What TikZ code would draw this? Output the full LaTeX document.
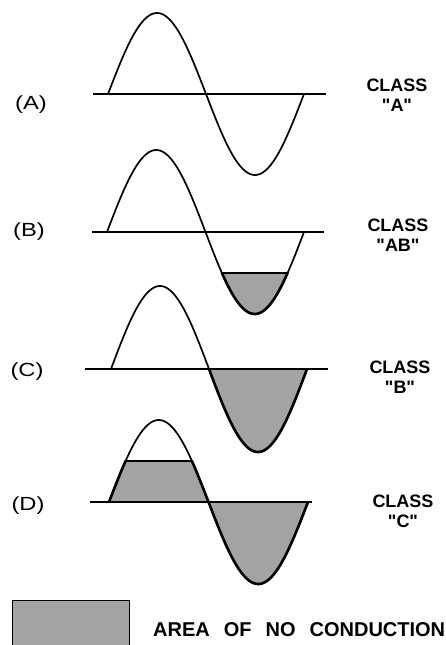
\documentclass[tikz,border=0pt]{standalone}
\usepackage{fontspec}
\setmainfont{Liberation Sans}
\newfontfamily\plainsans{Liberation Sans}
\begin{document}
\begin{tikzpicture}[x=1pt,y=-1pt,
  axisline/.style={line width=2.2pt},
  wave/.style={line width=1.7pt, line join=round},
  edgeline/.style={line width=2.6pt, line join=round, line cap=round},
  clipline/.style={line width=1.6pt},
  nocond/.style={fill=black!36},
  panellabel/.style={font=\plainsans\fontsize{19}{19}\selectfont, inner sep=0pt},
  classlabel/.style={font=\plainsans\bfseries\fontsize{18}{20}\selectfont, align=center, inner sep=0pt},
  legendtext/.style={font=\plainsans\bfseries\fontsize{20}{20}\selectfont, inner sep=0pt, anchor=west}
]
\useasboundingbox (0,0) rectangle (446,645);

% ---------- Panel A ----------
\begin{scope}
\def\xo{108}\def\per{196}\def\yo{94}\def\am{81}
\pgfmathsetmacro\xe{\xo+\per}
\draw[wave] plot[domain=\xo:\xe,samples=120,smooth] (\x,{\yo-\am*sin((\x-\xo)/\per*360)});
\draw[axisline] (93,\yo) -- (326,\yo);
\end{scope}

% ---------- Panel B ----------
\begin{scope}
\def\xo{107}\def\per{197}\def\yo{232}\def\am{82}
\pgfmathsetmacro\xe{\xo+\per}
\pgfmathsetmacro\xa{\xo+\per/360*210}
\pgfmathsetmacro\xb{\xo+\per/360*330}
\fill[nocond] plot[domain=\xa:\xb,samples=60,smooth] (\x,{\yo-\am*sin((\x-\xo)/\per*360)}) -- cycle;
\draw[wave] plot[domain=\xo:\xe,samples=120,smooth] (\x,{\yo-\am*sin((\x-\xo)/\per*360)});
\draw[edgeline] plot[domain=\xa:\xb,samples=60,smooth] (\x,{\yo-\am*sin((\x-\xo)/\per*360)});
\draw[clipline] (\xa,\yo+\am/2) -- (\xb,\yo+\am/2);
\draw[axisline] (92,\yo) -- (324,\yo);
\end{scope}

% ---------- Panel C ----------
\begin{scope}
\def\xo{111}\def\per{196}\def\yo{369}\def\am{83}
\pgfmathsetmacro\xe{\xo+\per}
\pgfmathsetmacro\xm{\xo+\per/2}
\fill[nocond] plot[domain=\xm:\xe,samples=80,smooth] (\x,{\yo-\am*sin((\x-\xo)/\per*360)}) -- cycle;
\draw[wave] plot[domain=\xo:\xe,samples=120,smooth] (\x,{\yo-\am*sin((\x-\xo)/\per*360)});
\draw[edgeline] plot[domain=\xm:\xe,samples=80,smooth] (\x,{\yo-\am*sin((\x-\xo)/\per*360)});
\draw[axisline] (85,\yo) -- (328,\yo);
\end{scope}

% ---------- Panel D ----------
\begin{scope}
\def\xo{109}\def\per{199}\def\yo{502}\def\am{82}
\pgfmathsetmacro\xe{\xo+\per}
\pgfmathsetmacro\xm{\xo+\per/2}
\pgfmathsetmacro\xc{\xo+\per/360*30}
\pgfmathsetmacro\xd{\xo+\per/360*150}
\fill[nocond] plot[domain=\xo:\xc,samples=20,smooth] (\x,{\yo-\am*sin((\x-\xo)/\per*360)})
   -- plot[domain=\xd:\xm,samples=20,smooth] (\x,{\yo-\am*sin((\x-\xo)/\per*360)}) -- cycle;
\fill[nocond] plot[domain=\xm:\xe,samples=80,smooth] (\x,{\yo-\am*sin((\x-\xo)/\per*360)}) -- cycle;
\draw[wave] plot[domain=\xo:\xe,samples=120,smooth] (\x,{\yo-\am*sin((\x-\xo)/\per*360)});
\draw[edgeline] plot[domain=\xo:\xc,samples=20,smooth] (\x,{\yo-\am*sin((\x-\xo)/\per*360)});
\draw[edgeline] plot[domain=\xd:\xe,samples=100,smooth] (\x,{\yo-\am*sin((\x-\xo)/\per*360)});
\draw[clipline] (\xc,\yo-\am/2) -- (\xd,\yo-\am/2);
\draw[axisline] (90,\yo) -- (312,\yo);
\end{scope}

% ---------- Labels ----------
\node[panellabel] (la) at (31,105) {\scalebox{1.25}[1]{(A)}};
\node[panellabel] (lb) at (29,232) {\scalebox{1.25}[1]{(B)}};
\node[panellabel] (lc) at (27,372) {\scalebox{1.25}[1]{(C)}};
\node[panellabel] (ld) at (28,506) {\scalebox{1.25}[1]{(D)}};

\node[classlabel] (ca) at (397,95)  {CLASS\\"A"};
\node[classlabel] (cb) at (398,235) {CLASS\\"AB"};
\node[classlabel] (cc) at (400,377) {CLASS\\"B"};
\node[classlabel] (cd) at (403,511) {CLASS\\"C"};

% ---------- Legend ----------
\fill[nocond] (12,600) rectangle (130,646);
\draw[line width=1pt] (12.5,646) -- (12.5,600.5) -- (129.5,600.5) -- (129.5,646);
\node[legendtext] (leg) at (153,630) {AREA\hspace{14pt}OF\hspace{14pt}NO\hspace{14pt}CONDUCTION};
\end{tikzpicture}
\end{document}
